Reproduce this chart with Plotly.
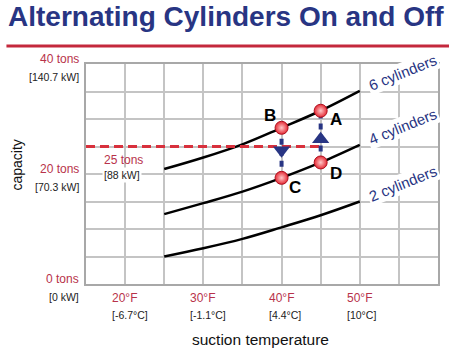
import plotly.graph_objects as go

# ---- data ----
temps_f = [25, 30, 35, 40, 45, 50]
cap_6cyl = [20.9, 23.0, 25.4, 28.4, 31.5, 35.1]
cap_4cyl = [12.7, 14.7, 16.8, 19.3, 22.1, 25.3]
cap_2cyl = [5.0, 6.5, 8.2, 10.3, 12.5, 15.0]
curve_names = ["6 cylinders", "4 cylinders", "2 cylinders"]

point_labels = ["A", "B", "C", "D"]
point_x = [45, 40, 40, 45]
point_y = [31.5, 28.4, 19.3, 22.1]

target_tons = 25
target_label = ["25 tons", "[88 kW]"]

y_tick_vals = [40, 20, 0]
y_tick_tons = ["40 tons", "20 tons", "0 tons"]
y_tick_kw = ["[140.7 kW]", "[70.3 kW]", "[0 kW]"]

x_tick_vals = [20, 30, 40, 50]
x_tick_f = ["20°F", "30°F", "40°F", "50°F"]
x_tick_c = ["[-6.7°C]", "[-1.1°C]", "[4.4°C]", "[10°C]"]

title = "Alternating Cylinders On and Off"
x_title = "suction temperature"
y_title = "capacity"

# ---- style ----
FONT = "Liberation Sans, Arial"
NAVY = "#283583"
RED = "#b8324a"
DASHRED = "#d8303c"
GRID = "#c4c4c4"

fig = go.Figure()

for caps in (cap_6cyl, cap_4cyl, cap_2cyl):
    fig.add_trace(go.Scatter(x=temps_f, y=caps, mode="lines",
                             line=dict(color="black", width=2.5, shape="spline"),
                             hoverinfo="skip"))

# red dashed target line from left edge to point A/D temperature
fig.add_trace(go.Scatter(x=[15, point_x[0]], y=[target_tons, target_tons], mode="lines",
                         line=dict(color=DASHRED, width=3.2, dash="9px,5px")))

# blue transitions: B -> C (down), D -> A (up)
for (i_from, i_to, sym) in [(1, 2, "triangle-down"), (3, 0, "triangle-up")]:
    x0, y0 = point_x[i_from], point_y[i_from]
    x1, y1 = point_x[i_to], point_y[i_to]
    fig.add_trace(go.Scatter(x=[x0, x1], y=[y0, y1], mode="lines",
                             line=dict(color=NAVY, width=4, dash="6px,5px")))
    f = 0.45
    fig.add_trace(go.Scatter(x=[x0 + (x1 - x0) * f], y=[y0 + (y1 - y0) * f], mode="markers",
                             marker=dict(symbol=sym, size=15, color=NAVY,
                                         line=dict(width=0))))

fig.add_trace(go.Scatter(x=point_x, y=point_y, mode="markers",
                         marker=dict(size=13, color="#e52a35",
                                     gradient=dict(type="radial", color="#ffc8c8"),
                                     line=dict(color="#b0101e", width=1))))

annotations = []
# point letters
offsets = {"A": (15, -9), "B": (-12, 12), "C": (13, -10), "D": (15, -11)}
for lab, x, y in zip(point_labels, point_x, point_y):
    dx, dy = offsets[lab]
    annotations.append(dict(x=x, y=y, text=f"<b>{lab}</b>", showarrow=False,
                            xshift=dx, yshift=dy,
                            font=dict(family=FONT, size=17, color="black")))

# curve labels
for name, caps in zip(curve_names, (cap_6cyl, cap_4cyl, cap_2cyl)):
    annotations.append(dict(x=temps_f[-1], y=caps[-1], text=name, showarrow=False,
                            xshift=43, yshift=18, textangle=-22, bgcolor="white",
                            font=dict(family=FONT, size=15, color=NAVY)))

# target label
annotations.append(dict(x=15, y=target_tons, text=target_label[0], showarrow=False,
                        xanchor="left", yanchor="middle", xshift=16, yshift=-13,
                        font=dict(family=FONT, size=12, color=RED)))
annotations.append(dict(x=15, y=target_tons, text=target_label[1], showarrow=False,
                        xanchor="left", yanchor="middle", xshift=16, yshift=-28,
                        bgcolor="white", borderpad=1,
                        font=dict(family=FONT, size=10.5, color="#222")))

# y tick labels
for v, t, k in zip(y_tick_vals, y_tick_tons, y_tick_kw):
    annotations.append(dict(xref="paper", x=0, y=v, text=t, showarrow=False,
                            xanchor="right", yanchor="middle", xshift=-5, yshift=5,
                            font=dict(family=FONT, size=12, color=RED)))
    annotations.append(dict(xref="paper", x=0, y=v, text=k, showarrow=False,
                            xanchor="right", yanchor="middle", xshift=-5, yshift=-13,
                            font=dict(family=FONT, size=10.5, color="#222")))

# x tick labels
for v, t, c in zip(x_tick_vals, x_tick_f, x_tick_c):
    annotations.append(dict(x=v, yref="paper", y=0, text=t, showarrow=False,
                            xanchor="left", yanchor="middle", xshift=-15, yshift=-14,
                            font=dict(family=FONT, size=12, color=RED)))
    annotations.append(dict(x=v, yref="paper", y=0, text=c, showarrow=False,
                            xanchor="left", yanchor="middle", xshift=-15, yshift=-31,
                            font=dict(family=FONT, size=10.5, color="#222")))

# axis titles
annotations.append(dict(xref="paper", yref="paper", x=-0.195, y=0.54, text=y_title,
                        showarrow=False, textangle=-90, xanchor="center", yanchor="middle",
                        font=dict(family=FONT, size=14, color="#111")))
annotations.append(dict(xref="paper", yref="paper", x=0.497, y=-0.254, text=x_title,
                        showarrow=False, xanchor="center", yanchor="middle",
                        font=dict(family=FONT, size=15.5, color="#111")))

# main title
annotations.append(dict(xref="paper", yref="paper", x=-0.226, y=1.215, text=f"<b>{title}</b>",
                        showarrow=False, xanchor="left", yanchor="middle",
                        font=dict(family=FONT, size=28, color=NAVY)))

fig.update_layout(
    width=449, height=354,
    margin=dict(l=86, r=9, t=64, b=70),
    paper_bgcolor="white", plot_bgcolor="white",
    showlegend=False,
    annotations=annotations,
    shapes=[dict(type="line", xref="paper", yref="paper", x0=-0.226, x1=1.1,
                 y0=1.0818, y1=1.0818, line=dict(color="#c4283c", width=3))],
    xaxis=dict(range=[15, 60], dtick=5, tick0=15, showticklabels=False,
               showgrid=True, gridcolor=GRID, gridwidth=1.5, zeroline=False,
               showline=True, linecolor="#a8a8a8", linewidth=1.5, mirror=True,
               fixedrange=True),
    yaxis=dict(range=[0, 40], dtick=5, showticklabels=False,
               showgrid=True, gridcolor=GRID, gridwidth=1.5, zeroline=False,
               showline=True, linecolor="#a8a8a8", linewidth=1.5, mirror=True,
               fixedrange=True),
)

fig.write_html("out.html")
